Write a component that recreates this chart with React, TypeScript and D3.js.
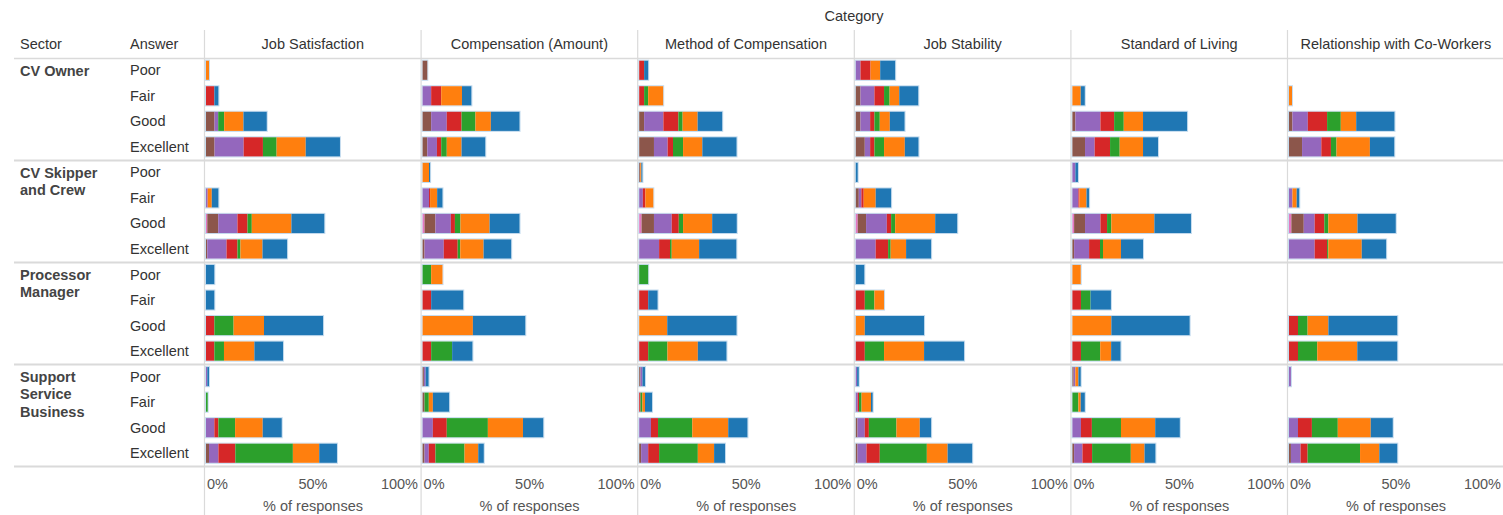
import React from "react";
import * as d3 from "d3";

const categories = [
  "Job Satisfaction",
  "Compensation (Amount)",
  "Method of Compensation",
  "Job Stability",
  "Standard of Living",
  "Relationship with Co-Workers",
];
const sectors = ["CV Owner", "CV Skipper and Crew", "Processor Manager", "Support Service Business"];
const sectorLines = [["CV Owner"], ["CV Skipper", "and Crew"], ["Processor", "Manager"], ["Support", "Service", "Business"]];
const answers = ["Poor", "Fair", "Good", "Excellent"];
// stacking order, left to right
const groups = ["g7", "g6", "g5", "g4", "g3", "g2", "g1"];
const groupColors = ["#e377c2", "#8c564b", "#9467bd", "#d62728", "#2ca02c", "#ff7f0e", "#1f77b4"];
const ticks = [0, 50, 100];

// rows: sector x answer, values in % per group (pink, brown, purple, red, green, orange, blue)
const jobSatisfaction = [
  [0, 0, 0, 0, 0, 1.4, 0],
  [0, 0, 0, 3.9, 0, 0, 1.9],
  [0, 4.0, 1.7, 0, 2.8, 9.0, 10.9],
  [0, 4.0, 13.6, 9.0, 6.4, 13.6, 16.0],
  [0, 0, 0, 0, 0, 0, 0],
  [0, 0, 0.8, 0, 0, 1.9, 3.1],
  [0.6, 5.1, 9.0, 4.7, 2.0, 18.5, 15.4],
  [0, 0.6, 9.0, 5.1, 1.4, 10.3, 11.5],
  [0, 0, 0, 0, 0, 0, 3.9],
  [0, 0, 0, 0, 0, 0, 3.9],
  [0, 0, 0, 3.9, 9.0, 14.2, 27.6],
  [0, 0, 0, 3.9, 4.5, 14.2, 13.4],
  [0, 0, 0.6, 0, 0, 0, 0.8],
  [0, 0, 0, 0, 0.8, 0, 0],
  [0, 0, 3.9, 1.9, 7.8, 12.9, 8.9],
  [0, 1.4, 4.4, 7.9, 26.9, 12.3, 8.3],
];
const compensation = [
  [0, 2.2, 0, 0, 0, 0, 0],
  [0, 0, 4.0, 4.7, 0, 9.7, 4.4],
  [0, 4.0, 7.3, 6.9, 6.5, 7.2, 13.4],
  [0, 2.2, 4.5, 2.0, 2.6, 6.9, 11.1],
  [0, 0, 0, 0, 0, 3.0, 0.5],
  [0, 0, 3.0, 0.5, 0, 3.3, 2.5],
  [0.9, 5.1, 7.2, 1.9, 2.6, 13.6, 14.0],
  [0, 0.9, 9.0, 6.5, 1.2, 10.9, 12.9],
  [0, 0, 0, 0, 4.0, 5.3, 0],
  [0, 0, 0, 4.0, 0, 0, 15.0],
  [0, 0, 0, 0, 0, 23.5, 24.5],
  [0, 0, 0, 4.0, 9.8, 0, 9.5],
  [0, 0.6, 0.8, 0, 0, 0, 1.4],
  [0, 0.9, 0, 0, 2.0, 1.9, 7.6],
  [0, 0, 4.8, 6.5, 19.2, 16.4, 9.5],
  [0, 0.9, 2.0, 3.1, 13.6, 6.4, 2.6],
];
const methodOfCompensation = [
  [0, 0, 0, 2.3, 0, 0, 1.9],
  [0, 0, 0, 2.3, 1.9, 7.0, 0],
  [0, 2.3, 9.0, 7.0, 2.0, 7.0, 11.5],
  [0, 6.9, 6.4, 2.5, 4.7, 9.0, 16.0],
  [0, 0.5, 0, 0, 0, 0.5, 0.5],
  [0, 0, 1.7, 1.2, 0, 3.7, 0],
  [1.1, 5.8, 8.3, 3.3, 2.0, 13.6, 11.5],
  [0, 0, 9.3, 5.1, 0.8, 12.8, 17.4],
  [0, 0, 0, 0, 4.2, 0, 0],
  [0, 0, 0, 4.2, 0, 0, 4.4],
  [0, 0, 0, 0, 0, 13.1, 32.4],
  [0, 0, 0, 4.2, 9.0, 14.2, 13.4],
  [0, 0.6, 0.9, 0, 0, 0, 1.2],
  [0, 0, 0, 0.6, 0.9, 1.2, 3.3],
  [0, 0, 5.5, 3.3, 16.0, 16.8, 9.0],
  [0, 0.9, 3.3, 5.1, 18.1, 7.6, 5.1],
];
const jobStability = [
  [0, 0, 2.2, 4.7, 0, 4.5, 7.0],
  [0, 2.2, 6.5, 4.5, 2.6, 4.5, 8.9],
  [0, 2.2, 4.5, 2.0, 2.5, 4.7, 6.9],
  [0, 4.2, 2.5, 2.0, 4.5, 9.7, 6.4],
  [0, 0, 0, 0, 0, 0, 0.9],
  [0, 1.4, 1.2, 1.1, 0, 5.6, 7.2],
  [0.9, 3.9, 9.7, 2.0, 1.9, 18.7, 10.3],
  [0, 0, 9.3, 5.8, 1.2, 7.2, 11.7],
  [0, 0, 0, 0, 0, 0, 4.0],
  [0, 0, 0, 4.2, 4.5, 4.5, 0],
  [0, 0, 0, 0, 0, 4.2, 27.7],
  [0, 0, 0, 4.2, 9.0, 18.7, 18.7],
  [0, 0, 0.6, 0, 0, 0, 0.8],
  [0, 0, 0.9, 0.6, 1.2, 4.4, 0.8],
  [0, 0.8, 3.4, 1.9, 12.9, 10.9, 5.3],
  [0, 0.8, 4.2, 6.2, 22.0, 9.7, 11.5],
];
const standardOfLiving = [
  [0, 0, 0, 0, 0, 0, 0],
  [0, 0, 0, 0, 0, 3.9, 1.9],
  [0, 1.4, 11.7, 6.4, 4.5, 9.0, 20.6],
  [0, 5.9, 4.5, 7.2, 4.5, 10.9, 7.0],
  [0, 0, 1.4, 0, 0, 0, 1.2],
  [0, 0, 2.8, 0.5, 0, 3.3, 1.2],
  [0.8, 5.1, 7.2, 3.1, 2.0, 20.1, 17.1],
  [0, 0.8, 7.0, 5.1, 1.4, 8.4, 10.3],
  [0, 0, 0, 0, 0, 3.9, 0],
  [0, 0, 0, 4.0, 4.5, 0, 9.5],
  [0, 0, 0, 0, 0, 18.2, 36.6],
  [0, 0, 0, 4.0, 9.0, 5.1, 4.4],
  [0, 0.6, 0.8, 0, 0, 1.4, 1.1],
  [0, 0, 0, 0, 2.8, 1.1, 1.9],
  [0, 0, 4.0, 5.1, 13.6, 16.0, 11.5],
  [0, 0.8, 3.9, 4.5, 18.1, 6.4, 5.1],
];
const relationshipWithCoWorkers = [
  [0, 0, 0, 0, 0, 0, 0],
  [0, 0, 0, 0, 0, 1.4, 0],
  [0, 1.6, 7.2, 9.0, 6.4, 7.2, 17.9],
  [0, 6.1, 9.0, 4.5, 2.6, 15.6, 11.4],
  [0, 0, 0, 0, 0, 0, 0],
  [0, 0, 1.6, 0, 0, 2.0, 1.2],
  [1.1, 5.8, 5.1, 4.5, 1.9, 13.6, 17.9],
  [0, 0, 12.0, 5.8, 0.6, 15.6, 11.4],
  [0, 0, 0, 0, 0, 0, 0],
  [0, 0, 0, 0, 0, 0, 0],
  [0, 0, 0, 4.2, 4.5, 9.7, 32.2],
  [0, 0, 0, 4.2, 9.0, 18.7, 18.7],
  [0, 0, 0.9, 0, 0, 0, 0],
  [0, 0, 0, 0, 0, 0, 0],
  [0, 0, 4.2, 6.5, 12.1, 15.4, 10.3],
  [0, 0.9, 4.5, 3.3, 24.5, 9.0, 8.4],
];

const categoryValues = [
  jobSatisfaction,
  compensation,
  methodOfCompensation,
  jobStability,
  standardOfLiving,
  relationshipWithCoWorkers,
];

const width = 1503;
const height = 515;
const font = "Arial, 'Liberation Sans', sans-serif";
const lineColor = "#dadada";
const textColor = "#333";

export default function App() {
  const rowKeys = sectors.flatMap((s) => answers.map((a) => `${s}|${a}`));

  // panels across, rows down
  const panel = d3.scaleBand<string>().domain(categories).range([204.5, 1504.1]);
  const x = d3.scaleLinear().domain([0, 100]).range([1.5, 215.5]);
  const y = d3
    .scaleBand<string>()
    .domain(rowKeys)
    .range([57.5, 466])
    .paddingInner(0.25)
    .paddingOuter(0.125);
  const sectorBand = d3.scaleBand<string>().domain(sectors).range([58.5, 466.5]);

  const stack = d3.stack<Record<string, number>>().keys(groups);

  return (
    <svg
      width={width}
      height={height}
      style={{ position: "absolute", left: 0, top: 0, fontFamily: font }}
    >
      <rect width={width} height={height} fill="#fff" />

      {/* title */}
      <text x={854} y={21} textAnchor="middle" fontSize={14.5} fill={textColor}>
        Category
      </text>

      {/* row header labels */}
      <text x={20} y={49} fontSize={14.5} fill={textColor}>Sector</text>
      <text x={130} y={49} fontSize={14.5} fill={textColor}>Answer</text>

      {/* horizontal separators */}
      {[58.5, ...sectors.map((s) => sectorBand(s)! + sectorBand.bandwidth())].map((yy, i) => (
        <line key={"h" + i} x1={14} x2={width} y1={yy} y2={yy} stroke={lineColor} strokeWidth={i === 0 ? 1.5 : 2} />
      ))}

      {/* vertical panel lines */}
      {categories.map((c) => (
        <line key={"v" + c} x1={panel(c)!} x2={panel(c)!} y1={30} y2={height} stroke={lineColor} strokeWidth={1.2} />
      ))}

      {/* sector labels */}
      {sectors.map((s, si) => (
        <text key={s} x={20} fontSize={14.5} fontWeight="bold" fill="#444">
          {sectorLines[si].map((ln, li) => (
            <tspan key={ln} x={20} y={sectorBand(s)! + 17 + li * 17.5}>
              {ln}
            </tspan>
          ))}
        </text>
      ))}

      {/* answer labels */}
      {rowKeys.map((k) => (
        <text key={k} x={130} y={y(k)! + y.bandwidth() / 2 + 5} fontSize={14.5} fill={textColor}>
          {k.split("|")[1]}
        </text>
      ))}

      {categories.map((c, ci) => {
        const x0 = panel(c)!;
        const table = categoryValues[ci].map((vals, ri) => {
          const o: Record<string, number> = {};
          groups.forEach((g, gi) => (o[g] = vals[gi]));
          return o;
        });
        const series = stack(table);
        return (
          <g key={c}>
            <text x={x0 + panel.bandwidth() / 2} y={49} textAnchor="middle" fontSize={14.5} fill={textColor}>
              {c}
            </text>
            {/* faint bar outline */}
            {table.map((row, ri) => {
              const total = d3.sum(groups, (g) => row[g]);
              if (!total) return null;
              return (
                <rect
                  key={"o" + ri}
                  x={x0 + x(0) - 0.5}
                  y={y(rowKeys[ri])! - 0.5}
                  width={x(total) - x(0) + 1}
                  height={y.bandwidth() + 1}
                  fill="none"
                  stroke="#c5dcef"
                  strokeWidth={1}
                />
              );
            })}
            {series.map((s, gi) => (
              <g key={s.key} fill={groupColors[gi]}>
                {s.map((d, ri) =>
                  d[1] - d[0] > 0 ? (
                    <rect
                      key={ri}
                      x={x0 + x(d[0])}
                      y={y(rowKeys[ri])!}
                      width={x(d[1]) - x(d[0])}
                      height={y.bandwidth()}
                    />
                  ) : null
                )}
              </g>
            ))}
            {/* axis */}
            {ticks.map((t, ti) => (
              <text
                key={t}
                x={x0 + x(t) + (ti === 0 ? 1 : ti === ticks.length - 1 ? -2 : 0)}
                y={489}
                textAnchor={ti === 0 ? "start" : ti === ticks.length - 1 ? "end" : "middle"}
                fontSize={14.5}
                fill="#555"
              >
                {`${t}%`}
              </text>
            ))}
            <text x={x0 + x(50)} y={511} textAnchor="middle" fontSize={14.5} fill="#555">
              % of responses
            </text>
          </g>
        );
      })}
    </svg>
  );
}
